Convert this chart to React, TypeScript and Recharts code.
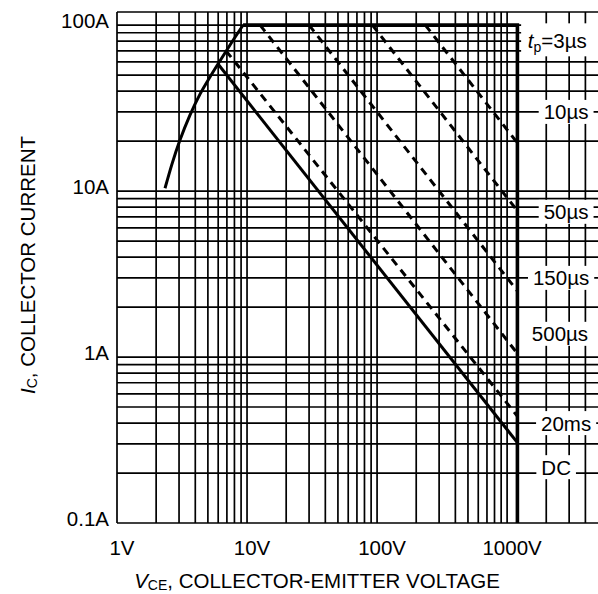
import {
  LineChart,
  Line,
  XAxis,
  YAxis,
  ReferenceLine,
  ReferenceDot,
} from 'recharts';

const FONT = '"Liberation Sans", Arial, Helvetica, sans-serif';

// V in volts, i in amps
const riseCurve = [
  { v: 2.34, i: 10.4 },
  { v: 2.65, i: 14.6 },
  { v: 3.05, i: 20.3 },
  { v: 3.64, i: 28.7 },
  { v: 4.35, i: 38.4 },
  { v: 5.19, i: 48.7 },
  { v: 5.98, i: 58.3 },
  { v: 7.4, i: 75.9 },
  { v: 9.32, i: 100 },
];
const limitEdge = [
  { v: 9.32, i: 100 },
  { v: 1200, i: 100 },
  { v: 1200, i: 0.1 },
];
const pulse10us = [
  { v: 235, i: 100 },
  { v: 1200, i: 19.5 },
];
const pulse50us = [
  { v: 92, i: 100 },
  { v: 1200, i: 7.6 },
];
const pulse150us = [
  { v: 30, i: 100 },
  { v: 1200, i: 2.5 },
];
const pulse500us = [
  { v: 12.6, i: 100 },
  { v: 1200, i: 1.05 },
];
const pulse20ms = [
  { v: 6.9, i: 70 },
  { v: 1200, i: 0.44 },
];
const dcLine = [
  { v: 5.98, i: 58.3 },
  { v: 1200, i: 0.305 },
];

const xTicks = [1, 10, 100, 1000];
const xTickLabels = ['1V', '10V', '100V', '1000V'];
const yTicks = [0.1, 1, 10, 100];
const yTickLabels = ['0.1A', '1A', '10A', '100A'];

// pulse width tags on the right, anchored at (V, A)
const tagText = ['3µs', '10µs', '50µs', '150µs', '500µs', '20ms', 'DC'];
const tagV = [2512, 2844, 2844, 2602, 2550, 2844, 2383];
const tagI = [81, 30, 7.5, 3.0, 1.38, 0.4, 0.217];

const mult = [1, 2, 3, 4, 5, 6, 7, 8, 9];
const vGrid = [1, 10, 100, 1000]
  .flatMap((d) => mult.map((m) => m * d))
  .filter((v) => v > 1 && v < 5000);
const hGrid = [0.1, 1, 10]
  .flatMap((d) => mult.map((m) => +(m * d).toFixed(2)))
  .filter((v) => v > 0.1)
  .concat([100]);

const CW: Record<string, number> = {
  '0': 0.556, '1': 0.556, '2': 0.556, '3': 0.556, '5': 0.556,
  'µ': 0.576, s: 0.5, m: 0.833, D: 0.722, C: 0.722, '=': 0.584, t: 0.278, p: 0.556,
};
const textWidth = (s: string, size: number) =>
  s.split('').reduce((w, c) => w + (CW[c] ?? 0.6) * size, 0);

const XTick = (props: any) => {
  const { x, y, payload } = props;
  const idx = xTicks.indexOf(payload.value);
  return (
    <text x={x + 5} y={y + 16} textAnchor="middle" dominantBaseline="central"
      fontFamily={FONT} fontSize={20.5} fill="#000">
      {xTickLabels[idx]}
    </text>
  );
};

const YTick = (props: any) => {
  const { x, y, payload } = props;
  const idx = yTicks.indexOf(payload.value);
  return (
    <text x={x} y={y - 5} textAnchor="end" dominantBaseline="central"
      fontFamily={FONT} fontSize={20.5} fill="#000">
      {yTickLabels[idx]}
    </text>
  );
};

const XTitle = (props: any) => {
  const { viewBox } = props;
  return (
    <text x={viewBox.x + 200} y={viewBox.y + 57} textAnchor="middle" dominantBaseline="central"
      fontFamily={FONT} fontSize={20.5} fill="#000">
      <tspan fontStyle="italic">V</tspan>
      <tspan fontSize={14} dy={5}>CE</tspan>
      <tspan dy={-5}>, COLLECTOR-EMITTER VOLTAGE</tspan>
    </text>
  );
};

const YTitle = (props: any) => {
  const { viewBox } = props;
  const cx = viewBox.x + 27;
  const cy = viewBox.y + 253;
  return (
    <text x={cx} y={cy} transform={`rotate(-90, ${cx}, ${cy})`} textAnchor="middle"
      dominantBaseline="central" fontFamily={FONT} fontSize={20.5} fill="#000">
      <tspan fontStyle="italic">I</tspan>
      <tspan fontSize={14} dy={5}>C</tspan>
      <tspan dy={-5}>, COLLECTOR CURRENT</tspan>
    </text>
  );
};

const PulseTag = ({ cx, cy, text }: { cx: number; cy: number; text: string }) => {
  const size = 20.5;
  if (text === '3µs') {
    const w = textWidth('tp=3µs', size);
    return (
      <g>
        <rect x={cx - 38} y={cy - 17} width={80} height={33} fill="#fff" />
        <text x={cx - w / 2} y={cy} dominantBaseline="central" fontFamily={FONT} fontSize={size} fill="#000">
          <tspan fontStyle="italic">t</tspan>
          <tspan fontSize={14} dy={7}>p</tspan>
          <tspan dy={-7}>=3µs</tspan>
        </text>
      </g>
    );
  }
  const w = textWidth(text, size) + 10;
  return (
    <g>
      <rect x={cx - w / 2} y={cy - 12} width={w} height={24} fill="#fff" />
      <text x={cx} y={cy} textAnchor="middle" dominantBaseline="central"
        fontFamily={FONT} fontSize={size} fill="#000">
        {text}
      </text>
    </g>
  );
};

const dashed = [pulse10us, pulse50us, pulse150us, pulse500us, pulse20ms];

export default function App() {
  return (
    <div style={{ position: 'absolute', left: 0, top: 0, background: '#fff' }}>
      <LineChart width={598} height={594} margin={{ top: 12, right: 0, bottom: 0, left: 0 }}>
        <XAxis
          dataKey="v"
          type="number"
          scale="log"
          domain={[1, 5000]}
          allowDataOverflow
          ticks={xTicks}
          height={71}
          axisLine={{ stroke: '#000', strokeWidth: 1.7 }}
          tickLine={false}
          tick={<XTick />}
          label={{ content: XTitle }}
        />
        <YAxis
          dataKey="i"
          type="number"
          scale="log"
          domain={[0.1, 120]}
          allowDataOverflow
          ticks={yTicks}
          width={117}
          axisLine={{ stroke: '#000', strokeWidth: 1.7 }}
          tickLine={false}
          tick={<YTick />}
          label={{ content: YTitle }}
        />
        {vGrid.map((v) => (
          <ReferenceLine key={`v${v}`} x={v} stroke="#000" strokeWidth={1.7} />
        ))}
        {hGrid.map((h) => (
          <ReferenceLine key={`h${h}`} y={h} stroke="#000" strokeWidth={1.7} />
        ))}
        <ReferenceLine y={120} stroke="#000" strokeWidth={1.7} />
        {tagText.map((t, k) => (
          <ReferenceDot
            key={t}
            x={tagV[k]}
            y={tagI[k]}
            r={1}
            shape={(p: any) => <PulseTag cx={p.cx} cy={p.cy} text={t} />}
          />
        ))}
        <Line data={riseCurve} dataKey="i" type="monotone" stroke="#000" strokeWidth={3}
          dot={false} activeDot={false} isAnimationActive={false} />
        <Line data={limitEdge} dataKey="i" type="linear" stroke="#000" strokeWidth={3.6}
          dot={false} activeDot={false} isAnimationActive={false} />
        {dashed.map((d, k) => (
          <Line key={k} data={d} dataKey="i" type="linear" stroke="#000" strokeWidth={3}
            strokeDasharray="8 6" dot={false} activeDot={false} isAnimationActive={false} />
        ))}
        <Line data={dcLine} dataKey="i" type="linear" stroke="#000" strokeWidth={3}
          dot={false} activeDot={false} isAnimationActive={false} />
      </LineChart>
    </div>
  );
}
